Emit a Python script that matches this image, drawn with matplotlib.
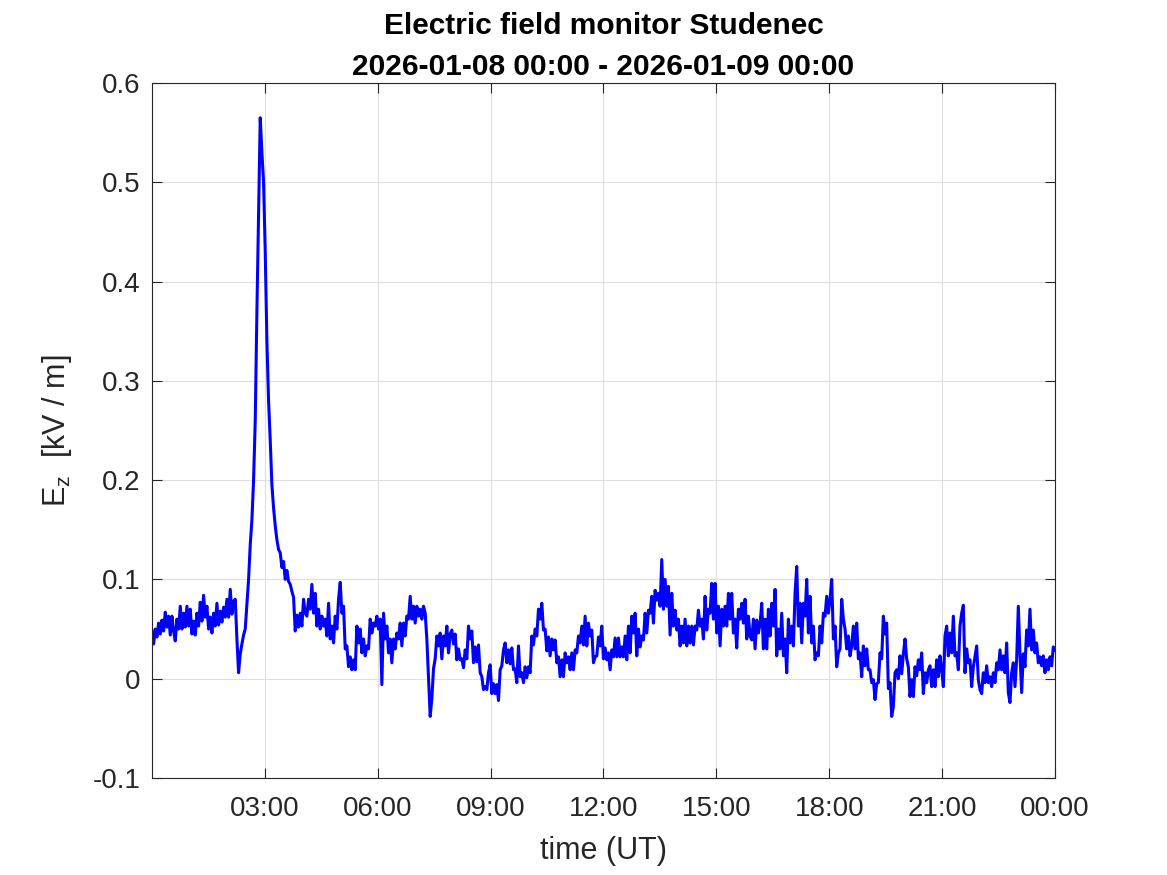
import numpy as np
import matplotlib
matplotlib.use('Agg')
import matplotlib.pyplot as plt
from matplotlib.ticker import FixedLocator, FuncFormatter

plt.rcParams['font.family'] = ['Liberation Sans', 'DejaVu Sans']
plt.rcParams['mathtext.fontset'] = 'custom'
plt.rcParams['mathtext.rm'] = 'Liberation Sans'

ez_night = [0.048, 0.035, 0.050, 0.042, 0.056, 0.045, 0.059, 0.048, 0.067, 0.052,
            0.063, 0.044, 0.063, 0.048, 0.038, 0.060, 0.050, 0.073, 0.050, 0.066,
            0.052, 0.073, 0.053, 0.070, 0.045, 0.058, 0.044, 0.066, 0.053, 0.077,
            0.058, 0.084, 0.062, 0.073, 0.050, 0.062, 0.046, 0.066, 0.053, 0.076,
            0.054, 0.068, 0.057, 0.072, 0.062, 0.080, 0.062, 0.090, 0.065, 0.078,
            0.080, 0.040, 0.006, 0.025, 0.035, 0.044, 0.050]
ez_spike = [0.075, 0.100, 0.135, 0.160, 0.200, 0.260, 0.370, 0.470, 0.565, 0.530,
            0.500, 0.430, 0.340, 0.280, 0.240, 0.195, 0.172, 0.154, 0.140, 0.130,
            0.127, 0.112, 0.118, 0.100, 0.109, 0.098, 0.095, 0.088, 0.082, 0.048,
            0.064, 0.052,
            0.066, 0.053, 0.080, 0.066, 0.063, 0.080, 0.070, 0.095, 0.066, 0.086,
            0.053, 0.070, 0.050, 0.063, 0.053, 0.060, 0.043, 0.076, 0.040, 0.053,
            0.036, 0.063, 0.050, 0.080, 0.097, 0.066, 0.073, 0.030, 0.033, 0.012,
            0.022, 0.009, 0.019, 0.009, 0.053, 0.036, 0.050, 0.026, 0.040, 0.023,
            0.033, 0.030, 0.060, 0.046, 0.056, 0.053, 0.063, 0.050, 0.060, -0.006,
            0.066, 0.040, 0.053, 0.026, 0.040, 0.016, 0.040, 0.030, 0.046, 0.040,
            0.056, 0.033, 0.056, 0.043, 0.063, 0.060, 0.083, 0.060, 0.073, 0.056,
            0.073, 0.063, 0.070, 0.060, 0.073, 0.066, 0.040, 0.000, -0.038, -0.020,
            0.010, 0.020, 0.043, 0.033, 0.046, 0.020, 0.043, 0.033, 0.053, 0.026,
            0.045]
ez_morning = [0.049, 0.035, 0.045, 0.019, 0.030, 0.019, 0.020, 0.011, 0.029, 0.020,
              0.053, 0.040, 0.048, 0.016, 0.032, 0.017, 0.034, 0.006, 0.002, -0.011,
              -0.008, -0.011, 0.006, 0.014, -0.015, -0.005, -0.015, -0.006, -0.022, 0.009,
              0.013, 0.029, 0.036, 0.016, 0.029, 0.015, 0.031, 0.009, 0.010, -0.004,
              0.033, 0.002, 0.006, -0.004, 0.012, 0.001, 0.012, 0.006, 0.043, 0.034,
              0.050, 0.043, 0.070, 0.060, 0.076, 0.049, 0.050, 0.028, 0.042, 0.023,
              0.040, 0.029, 0.039, 0.016, 0.022, 0.002, 0.019, 0.002, 0.026, 0.016,
              0.022, 0.009, 0.026, 0.009, 0.029, 0.026, 0.043, 0.036, 0.053, 0.034,
              0.063, 0.033, 0.056, 0.043, 0.049, 0.016, 0.022, 0.023, 0.042, 0.033]
ez_noon = [0.053, 0.020, 0.031, 0.019, 0.026, 0.009, 0.029, 0.022, 0.041, 0.022,
           0.041, 0.022, 0.032, 0.022, 0.043, 0.019, 0.053, 0.026, 0.063, 0.046,
           0.066, 0.023, 0.050, 0.032, 0.043, 0.039, 0.066, 0.046, 0.069, 0.066,
           0.083, 0.056, 0.089, 0.079, 0.086, 0.073, 0.120, 0.070, 0.100, 0.073,
           0.093, 0.044, 0.086, 0.053, 0.069, 0.049, 0.060, 0.033, 0.053, 0.036,
           0.060, 0.033, 0.053, 0.036, 0.053, 0.034, 0.053, 0.049, 0.069, 0.053,
           0.060, 0.040, 0.083, 0.049, 0.070, 0.066, 0.096, 0.060, 0.096, 0.046,
           0.073, 0.033, 0.070, 0.053, 0.073, 0.053, 0.086, 0.060, 0.086, 0.046,
           0.060, 0.031, 0.070, 0.060, 0.076, 0.056, 0.080, 0.040, 0.063, 0.043]
ez_afternoon = [0.039, 0.060, 0.030, 0.059, 0.046, 0.055, 0.076, 0.030, 0.060, 0.030,
                0.070, 0.043, 0.076, 0.053, 0.090, 0.023, 0.050, 0.030, 0.066, 0.023,
                0.040, 0.006, 0.060, 0.036, 0.053, 0.033, 0.086, 0.113, 0.053, 0.076,
                0.036, 0.076, 0.063, 0.100, 0.046, 0.083, 0.036, 0.053, 0.019, 0.026,
                0.023, 0.053, 0.036, 0.066, 0.063, 0.083, 0.066, 0.080, 0.100, 0.040,
                0.053, 0.012, 0.026, 0.030, 0.080, 0.060, 0.050, 0.030, 0.043, 0.023,
                0.033, 0.053, 0.030, 0.056, 0.020, 0.026, 0.002, 0.033, 0.013, 0.030,
                0.009, 0.009, -0.004, -0.001, -0.021, -0.005, -0.004, 0.026, 0.020, 0.063,
                0.045, 0.056, -0.010, -0.004, -0.038, -0.028, 0.006, 0.009, 0.000, 0.023]
ez_evening = [0.005, 0.025, 0.040, 0.020, 0.012, -0.018, -0.001, -0.018, 0.012, 0.003,
              0.019, 0.009, 0.026, -0.015, 0.006, -0.004, 0.009, 0.013, -0.008, 0.009,
              -0.008, 0.019, 0.002, 0.023, 0.009, -0.008, 0.043, 0.053, 0.023, 0.046,
              0.026, 0.063, 0.023, 0.026, 0.009, 0.053, 0.066, 0.074, 0.006, 0.030,
              0.016, 0.019, -0.008, 0.012, 0.022, 0.033, -0.001, -0.011, -0.015, 0.006,
              -0.004, 0.013, -0.004, 0.002, -0.008, 0.006, -0.004, 0.016, 0.009, 0.029,
              0.009, 0.023, 0.006, 0.036, -0.014, -0.024, 0.006, 0.016, -0.008, 0.019,
              0.073, 0.025, -0.014, 0.025, 0.012, 0.049, 0.033, 0.070, 0.029, 0.049,
              0.026, 0.036, 0.016, 0.022, 0.013, 0.023, 0.006, 0.019, 0.009, 0.022,
              0.013, 0.032, 0.029]

tick_hours = [3, 6, 9, 12, 15, 18, 21, 24]
tick_labels = ['03:00', '06:00', '09:00', '12:00', '15:00', '18:00', '21:00', '00:00']
y_ticks = [-0.1, 0, 0.1, 0.2, 0.3, 0.4, 0.5, 0.6]

ez = np.array(ez_night + ez_spike + ez_morning + ez_noon + ez_afternoon + ez_evening)
hours = np.linspace(0, 24, len(ez))

dark = '#262626'
fig = plt.figure(figsize=(11.67, 8.75), dpi=100)
ax = fig.add_axes([0.1302, 0.1109, 0.7738, 0.7942])
ax.plot(hours, ez, color='#0000ff', lw=2.2)

ax.set_xlim(0, 24)
ax.set_ylim(-0.1, 0.6)
ax.xaxis.set_major_locator(FixedLocator(tick_hours))
ax.xaxis.set_major_formatter(FuncFormatter(lambda v, p: tick_labels[tick_hours.index(int(round(v)))]))
ax.set_yticks(y_ticks)
ax.set_yticklabels(['%g' % v for v in y_ticks])

ax.grid(True, color='#dfdfdf', lw=0.8)
ax.set_axisbelow(True)
ax.tick_params(direction='in', length=7, width=0.8, colors=dark, labelsize=20,
               top=True, right=True)
ax.tick_params(axis='x', pad=13)
ax.tick_params(axis='y', pad=8)
for s in ax.spines.values():
    s.set_color(dark)
    s.set_linewidth(0.8)

ax.set_xlabel('time (UT)', fontsize=22, color=dark, labelpad=10)
ax.set_ylabel(r'$\mathregular{E_z}$  [kV / m]', fontsize=22, color=dark, labelpad=14)
ax.set_title('Electric field monitor Studenec\n2026-01-08 00:00 - 2026-01-09 00:00',
             fontsize=21.5, fontweight='bold', color='black', pad=6, linespacing=1.6)

fig.savefig('out.png', dpi=100)
